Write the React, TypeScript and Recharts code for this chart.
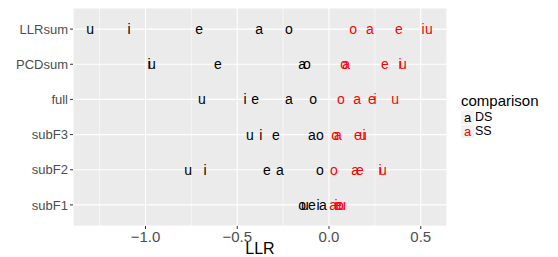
import {
  CartesianGrid,
  ReferenceLine,
  Scatter,
  ScatterChart,
  XAxis,
  YAxis,
} from "recharts";

// bottom to top, like ggplot's factor order
const rows = ["subF1", "subF2", "subF3", "full", "PCDsum", "LLRsum"];
const vowels = ["u", "i", "e", "a", "o"];

// LLR per row, in the order of `vowels`
const dsLLR: Record<string, number[]> = {
  LLRsum: [-1.302, -1.09, -0.708, -0.381, -0.218],
  PCDsum: [-0.965, -0.981, -0.605, -0.147, -0.12],
  full: [-0.692, -0.458, -0.403, -0.218, -0.087],
  subF3: [-0.431, -0.371, -0.289, -0.093, -0.049],
  subF2: [-0.768, -0.676, -0.338, -0.267, -0.049],
  subF1: [-0.131, -0.06, -0.093, -0.033, -0.147],
};
const ssLLR: Record<string, number[]> = {
  LLRsum: [0.545, 0.512, 0.381, 0.223, 0.131],
  PCDsum: [0.403, 0.387, 0.305, 0.093, 0.082],
  full: [0.36, 0.251, 0.234, 0.153, 0.065],
  subF3: [0.185, 0.191, 0.158, 0.049, 0.033],
  subF2: [0.294, 0.278, 0.169, 0.142, 0.027],
  subF1: [0.071, 0.038, 0.049, 0.022, 0.06],
};

const xTicks = [-1, -0.5, 0, 0.5];
const xMinor = [-1.25, -0.75, -0.25, 0.25];

const FONT = "'Liberation Sans', Arial, Helvetica, sans-serif";

function toPoints(src: Record<string, number[]>) {
  return rows.flatMap((r, ri) =>
    vowels.map((v, vi) => ({ x: src[r][vi], y: ri, label: v }))
  );
}

const dsData = toPoints(dsLLR);
const ssData = toPoints(ssLLR);

function letter(color: string) {
  // eslint-disable-next-line @typescript-eslint/no-explicit-any
  return (props: any) => (
    <text
      x={props.cx}
      y={props.cy}
      textAnchor="middle"
      dominantBaseline="central"
      fill={color}
      fontSize={14}
      fontFamily={FONT}
    >
      {props.payload.label}
    </text>
  );
}

const fmtX = (v: number) => (v < 0 ? "\u2212" + Math.abs(v).toFixed(1) : v.toFixed(1));

export default function App() {
  return (
    <div
      style={{
        position: "absolute",
        left: 0,
        top: 0,
        width: 558,
        height: 257,
        background: "#fff",
        fontFamily: FONT,
      }}
    >
      <ScatterChart width={558} height={257} margin={{ top: 8, right: 111, bottom: 0, left: 0 }}>
        <CartesianGrid fill="#EBEBEB" stroke="#ffffff" strokeWidth={1.1} />
        {xMinor.map((m) => (
          <ReferenceLine key={m} x={m} stroke="#ffffff" strokeWidth={0.55} />
        ))}
        <XAxis
          type="number"
          dataKey="x"
          domain={[-1.395, 0.643]}
          allowDataOverflow
          ticks={xTicks}
          tickFormatter={fmtX}
          axisLine={false}
          tickLine={{ stroke: "#333333" }}
          tickSize={3}
          height={31}
          tick={{ fontSize: 15, fill: "#4D4D4D", fontFamily: FONT }}
          label={{
            value: "LLR",
            position: "insideBottom",
            offset: 3,
            fontSize: 16,
            fill: "#000",
            fontFamily: FONT,
          }}
        />
        <YAxis
          type="number"
          dataKey="y"
          domain={[-0.6, 5.6]}
          allowDataOverflow
          ticks={[0, 1, 2, 3, 4, 5]}
          tickFormatter={(v: number) => rows[v]}
          axisLine={false}
          tickLine={{ stroke: "#333333" }}
          tickSize={3}
          width={73}
          tick={{ fontSize: 13, fill: "#4D4D4D", fontFamily: FONT }}
        />
        <Scatter name="DS" data={dsData} shape={letter("#000000")} isAnimationActive={false} />
        <Scatter name="SS" data={ssData} shape={letter("#FF0000")} isAnimationActive={false} />
      </ScatterChart>

      {/* legend */}
      <div style={{ position: "absolute", left: 461, top: 92, fontSize: 15, lineHeight: "18px" }}>
        comparison
      </div>
      {[
        { name: "DS", color: "#000000", top: 111 },
        { name: "SS", color: "#FF0000", top: 125 },
      ].map((k) => (
        <div
          key={k.name}
          style={{ position: "absolute", left: 461, top: k.top, display: "flex", alignItems: "center" }}
        >
          <div
            style={{
              width: 13,
              height: 13,
              background: "#F2F2F2",
              color: k.color,
              fontSize: 13,
              lineHeight: "13px",
              textAlign: "center",
            }}
          >
            a
          </div>
          <span style={{ marginLeft: 1, fontSize: 12.5, lineHeight: "13px" }}>{k.name}</span>
        </div>
      ))}
    </div>
  );
}
